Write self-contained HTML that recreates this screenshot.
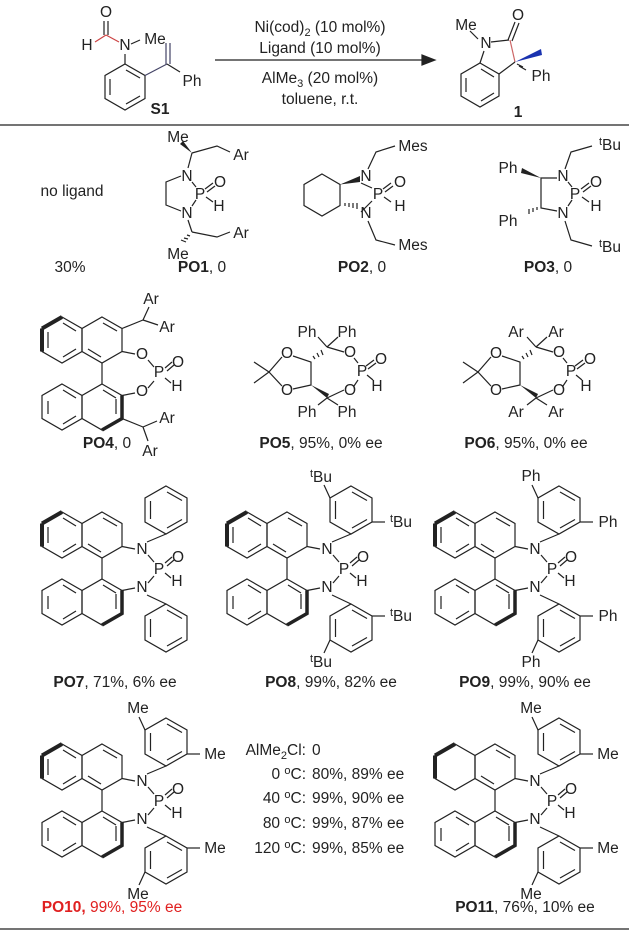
<!DOCTYPE html>
<html><head><meta charset="utf-8"><style>
html,body{margin:0;padding:0;background:#fff}
svg{display:block}
text{font-family:"Liberation Sans",Arial,sans-serif;font-size:15.5px;fill:#222}
.a{text-anchor:middle}
.b{font-weight:bold}
</style></head><body>
<svg width="629" height="932" viewBox="0 0 629 932" xmlns="http://www.w3.org/2000/svg">
<defs>
<g id="core" stroke="#222" stroke-width="1.2" fill="none">
 <polygon points="62,512 82,523.5 82,546.5 62,558 42,546.5 42,523.5"/>
 <polygon points="102,512 122,523.5 122,546.5 102,558 82,546.5 82,523.5"/>
 <polygon points="62,579 82,590.5 82,613.5 62,625 42,613.5 42,590.5"/>
 <polygon points="102,579 122,590.5 122,613.5 102,625 82,613.5 82,590.5"/>
 <line x1="102" y1="558" x2="102" y2="579"/>
 <line x1="122" y1="546.5" x2="135" y2="549"/>
 <line x1="122" y1="590.5" x2="135" y2="588"/>
 <line x1="148" y1="555" x2="154" y2="562"/>
 <line x1="148" y1="583" x2="154" y2="576"/>
 <line x1="165" y1="563" x2="172" y2="557"/>
 <line x1="167" y1="566" x2="174" y2="560"/>
 <line x1="165" y1="573" x2="171" y2="578"/>
 <line x1="103" y1="518" x2="117" y2="526"/>
 <line x1="88" y1="544" x2="101" y2="552"/>
 <line x1="48" y1="596" x2="48" y2="609"/>
 <line x1="63" y1="585" x2="76" y2="593"/>
 <line x1="63" y1="619" x2="76" y2="611"/>
 <line x1="103" y1="585" x2="116" y2="593"/>
 <line x1="116" y1="594" x2="116" y2="609"/>
 <path d="M42,523.5 L42,546.5 M42,523.5 L62,512" stroke-width="4"/>
 <path d="M122,590.5 L122,613.5 L102,625" stroke-width="3.5"/>
</g>
<g id="naphin" stroke="#222" stroke-width="1.2" fill="none">
 <line x1="48" y1="527" x2="48" y2="543"/>
 <line x1="63" y1="552" x2="76" y2="544"/>
 <line x1="63" y1="518" x2="76" y2="526"/>
</g>
<g id="aryls" stroke="#222" stroke-width="1.2" fill="none">
 <polygon points="166,486 187,498 187,522 166,534 145,522 145,498"/>
 <polygon points="166,604 187,616 187,640 166,652 145,640 145,616"/>
 <line x1="147" y1="542" x2="166" y2="534"/>
 <line x1="147" y1="595" x2="166" y2="604"/>
 <line x1="150.5" y1="501" x2="150.5" y2="519"/>
 <line x1="167" y1="492" x2="182" y2="500.5"/>
 <line x1="167" y1="528" x2="182" y2="519.5"/>
 <line x1="150.5" y1="619" x2="150.5" y2="637"/>
 <line x1="167" y1="610" x2="182" y2="618.5"/>
 <line x1="167" y1="646" x2="182" y2="637.5"/>
</g>
<g id="meta" stroke="#222" stroke-width="1.2" fill="none">
 <line x1="145" y1="498" x2="139" y2="485"/>
 <line x1="187" y1="522" x2="200" y2="522"/>
 <line x1="187" y1="616" x2="200" y2="616"/>
 <line x1="145" y1="640" x2="139" y2="653"/>
</g>
</defs>

<!-- top scheme -->
<g stroke="#222" stroke-width="1.2" fill="none">
 <polygon points="125,64 145,75.5 145,98.5 125,110 105,98.5 105,75.5"/>
 <line x1="110" y1="79" x2="110" y2="95"/><line x1="126" y1="104" x2="140" y2="96"/><line x1="126" y1="70" x2="140" y2="78"/>
 <line x1="125" y1="64" x2="125" y2="54"/>
 <line x1="131" y1="44" x2="140" y2="40"/>
 <line x1="119" y1="42" x2="106" y2="35" stroke="#c44"/>
 <line x1="106" y1="35" x2="95" y2="42" stroke="#c44"/>
 <line x1="104" y1="35" x2="104" y2="21"/><line x1="108" y1="35" x2="108" y2="21"/>
 <line x1="145" y1="75.5" x2="167" y2="64" stroke="#446"/>
 <line x1="166" y1="64" x2="166" y2="43" stroke="#446"/><line x1="170" y1="64" x2="170" y2="43" stroke="#446"/>
 <line x1="167" y1="64" x2="180" y2="72"/>
 <line x1="215" y1="60" x2="424" y2="60"/>
 <polygon points="435,60 422,55 422,65" fill="#222"/>
 <polygon points="480,63 499,74 499,96 480,107 461,96 461,74"/>
 <line x1="466" y1="78" x2="466" y2="92"/><line x1="481" y1="101" x2="494" y2="93"/><line x1="481" y1="69" x2="494" y2="77"/>
 <line x1="480" y1="63" x2="484" y2="51"/>
 <line x1="491" y1="42" x2="509" y2="40"/>
 <line x1="508" y1="40" x2="515" y2="22"/><line x1="512" y1="41" x2="519" y2="23"/>
 <line x1="510" y1="40" x2="515" y2="62" stroke="#c66"/>
 <line x1="515" y1="62" x2="499" y2="74"/>
 <line x1="478" y1="39" x2="470" y2="31"/>
 <path d="M517,64 L523,67 M519,66 L526,70" />
</g>
<polygon points="515,62 541,49 542,55" fill="#1a33b0"/>
<text x="106" y="17" class="a">O</text>
<text x="87" y="50" class="a">H</text>
<text x="125" y="50" class="a">N</text>
<text x="155" y="44" class="a">Me</text>
<text x="192" y="86" class="a">Ph</text>
<text x="160" y="114" class="a b">S1</text>
<text x="320" y="32" class="a">Ni(cod)<tspan font-size="11" dy="4">2</tspan><tspan dy="-4"> (10 mol%)</tspan></text>
<text x="320" y="53" class="a">Ligand (10 mol%)</text>
<text x="320" y="83" class="a">AlMe<tspan font-size="11" dy="4">3</tspan><tspan dy="-4"> (20 mol%)</tspan></text>
<text x="320" y="104" class="a">toluene, r.t.</text>
<text x="486" y="48" class="a">N</text>
<text x="466" y="30" class="a">Me</text>
<text x="518" y="20" class="a">O</text>
<text x="541" y="81" class="a">Ph</text>
<text x="518" y="117" class="a b">1</text>
<line x1="0" y1="125" x2="629" y2="125" stroke="#222" stroke-width="1.3"/>

<!-- row1 -->
<text x="72" y="196" class="a">no ligand</text>
<text x="70" y="272" class="a">30%</text>
<g stroke="#222" stroke-width="1.2" fill="none">
 <path d="M181,176 L166,182 L166,205 L181,211"/>
 <line x1="192" y1="182" x2="196" y2="187"/><line x1="196" y1="200" x2="192" y2="206"/>
 <line x1="205" y1="189" x2="213" y2="183"/><line x1="207" y1="192" x2="215" y2="186"/>
 <line x1="206" y1="197" x2="213" y2="202"/>
 <line x1="188" y1="168" x2="192" y2="153"/><path d="M192,153 L217,146 L230,152"/>
 <line x1="188" y1="220" x2="192" y2="232"/><path d="M192,232 L217,237 L230,232"/>
 <path d="M190,236 l-3,-1 M188,239 l-4,-1 M186,242 l-5,-2"/>
</g>
<polygon points="192,153 180,144 183,141" fill="#222"/>
<text x="187" y="181" class="a">N</text><text x="200" y="199" class="a">P</text>
<text x="187" y="218" class="a">N</text><text x="220" y="187" class="a">O</text>
<text x="219" y="211" class="a">H</text>
<text x="178" y="142" class="a">Me</text><text x="241" y="160" class="a">Ar</text>
<text x="241" y="238" class="a">Ar</text><text x="178" y="259" class="a">Me</text>
<text x="202" y="272" class="a"><tspan class="b">PO1</tspan>, 0</text>

<g stroke="#222" stroke-width="1.2" fill="none">
 <polygon points="322,174 340,184.5 340,205.5 322,216 304,205.5 304,184.5"/>
 <line x1="361" y1="183" x2="372" y2="188"/><line x1="372" y1="201" x2="361" y2="212"/>
 <line x1="383" y1="189" x2="391" y2="183"/><line x1="385" y1="192" x2="393" y2="186"/>
 <line x1="384" y1="197" x2="391" y2="202"/>
 <path d="M368,169 L376,152 L395,146"/>
 <path d="M368,221 L376,240 L395,245"/>
 <path d="M345,206 l0,-3 M349,207 l0,-4 M353,208 l0,-5 M357,209 l0,-6"/>
</g>
<polygon points="340,184.5 360,176 360,182" fill="#222"/>
<text x="366" y="181" class="a">N</text><text x="378" y="199" class="a">P</text>
<text x="366" y="218" class="a">N</text><text x="400" y="187" class="a">O</text>
<text x="400" y="211" class="a">H</text>
<text x="413" y="151" class="a">Mes</text><text x="413" y="250" class="a">Mes</text>
<text x="362" y="272" class="a"><tspan class="b">PO2</tspan>, 0</text>

<g stroke="#222" stroke-width="1.2" fill="none">
 <path d="M557,178 L541,178 L541,208 L557,211"/>
 <line x1="568" y1="182" x2="572" y2="187"/><line x1="572" y1="200" x2="568" y2="206"/>
 <line x1="581" y1="189" x2="589" y2="183"/><line x1="583" y1="192" x2="591" y2="186"/>
 <line x1="582" y1="197" x2="589" y2="202"/>
 <path d="M565,169 L571,152 L592,146"/>
 <path d="M565,221 L571,240 L592,246"/>
 <path d="M537,210 l0,-3 M533,212 l0,-4 M529,214 l0,-5"/>
</g>
<polygon points="541,178 522,168 521,173" fill="#222"/>
<text x="563" y="181" class="a">N</text><text x="575" y="199" class="a">P</text>
<text x="563" y="218" class="a">N</text><text x="596" y="187" class="a">O</text>
<text x="596" y="211" class="a">H</text>
<text x="508" y="173" class="a">Ph</text><text x="508" y="226" class="a">Ph</text>
<text x="610" y="150" class="a"><tspan font-size="11" dy="-5">t</tspan><tspan dy="5">Bu</tspan></text>
<text x="610" y="252" class="a"><tspan font-size="11" dy="-5">t</tspan><tspan dy="5">Bu</tspan></text>
<text x="548" y="272" class="a"><tspan class="b">PO3</tspan>, 0</text>

<!-- row2 PO4 -->
<g transform="translate(0,-195)">
 <use href="#core"/><use href="#naphin"/>
 <g stroke="#222" stroke-width="1.2" fill="none">
  <line x1="122" y1="523.5" x2="143" y2="515"/><line x1="143" y1="515" x2="149" y2="502"/><line x1="143" y1="515" x2="158" y2="520"/>
  <line x1="122" y1="613.5" x2="143" y2="622"/><line x1="143" y1="622" x2="157" y2="616"/><line x1="143" y1="622" x2="148" y2="636"/>
 </g>
 <text x="142" y="554" class="a">O</text><text x="159" y="572" class="a">P</text>
 <text x="142" y="591" class="a">O</text><text x="178" y="562" class="a">O</text>
 <text x="177" y="586" class="a">H</text>
 <text x="151" y="499" class="a">Ar</text><text x="167" y="527" class="a">Ar</text>
 <text x="167" y="618" class="a">Ar</text><text x="150" y="651" class="a">Ar</text>
</g>
<text x="107" y="448" class="a"><tspan class="b">PO4</tspan>, 0</text>

<!-- PO5 / PO6 -->
<g id="taddol">
<g stroke="#222" stroke-width="1.2" fill="none">
 <path d="M282,357 L269,372 L282,386"/>
 <path d="M293,356 L311,362 L311,385 L293,389"/>
 <line x1="269" y1="372" x2="254" y2="362"/><line x1="269" y1="372" x2="254" y2="383"/>
 <path d="M327,347 L344,352 M327,398 L344,390"/>
 <path d="M327,347 L318,337 M327,347 L338,337 M327,398 L318,405 M327,398 L338,405"/>
 <line x1="354" y1="358" x2="358" y2="363"/><line x1="354" y1="386" x2="358" y2="380"/>
 <line x1="366" y1="366" x2="374" y2="360"/><line x1="368" y1="369" x2="376" y2="363"/>
 <line x1="367" y1="375" x2="373" y2="380"/>
 <path d="M315,359 l-2,-3 M319,357 l-2,-4 M323,355 l-2,-5"/>
</g>
<polygon points="311,385 327,398 329,394" fill="#222"/>
<text x="287" y="358" class="a">O</text><text x="287" y="395" class="a">O</text>
<text x="350" y="357" class="a">O</text><text x="350" y="395" class="a">O</text>
<text x="362" y="376" class="a">P</text><text x="381" y="364" class="a">O</text>
<text x="377" y="391" class="a">H</text>
</g>
<text x="307" y="337" class="a">Ph</text><text x="347" y="337" class="a">Ph</text>
<text x="307" y="417" class="a">Ph</text><text x="347" y="417" class="a">Ph</text>
<text x="321" y="448" class="a"><tspan class="b">PO5</tspan>, 95%, 0% ee</text>
<use href="#taddol" transform="translate(209,0)"/>
<text x="516" y="337" class="a">Ar</text><text x="556" y="337" class="a">Ar</text>
<text x="516" y="417" class="a">Ar</text><text x="556" y="417" class="a">Ar</text>
<text x="526" y="448" class="a"><tspan class="b">PO6</tspan>, 95%, 0% ee</text>

<!-- row3 -->
<g>
 <use href="#core"/><use href="#naphin"/><use href="#aryls"/>
 <text x="142" y="554" class="a">N</text><text x="159" y="574" class="a">P</text>
 <text x="142" y="592" class="a">N</text><text x="178" y="562" class="a">O</text>
 <text x="177" y="586" class="a">H</text>
</g>
<text x="115" y="687" class="a"><tspan class="b">PO7</tspan>, 71%, 6% ee</text>

<g transform="translate(185,0)">
 <use href="#core"/><use href="#naphin"/><use href="#aryls"/><use href="#meta"/>
 <text x="142" y="554" class="a">N</text><text x="159" y="574" class="a">P</text>
 <text x="142" y="592" class="a">N</text><text x="178" y="562" class="a">O</text>
 <text x="177" y="586" class="a">H</text>
 <text x="136" y="482" class="a"><tspan font-size="11" dy="-5">t</tspan><tspan dy="5">Bu</tspan></text>
 <text x="216" y="527" class="a"><tspan font-size="11" dy="-5">t</tspan><tspan dy="5">Bu</tspan></text>
 <text x="216" y="621" class="a"><tspan font-size="11" dy="-5">t</tspan><tspan dy="5">Bu</tspan></text>
 <text x="136" y="667" class="a"><tspan font-size="11" dy="-5">t</tspan><tspan dy="5">Bu</tspan></text>
</g>
<text x="331" y="687" class="a"><tspan class="b">PO8</tspan>,  99%, 82% ee</text>

<g transform="translate(393,0)">
 <use href="#core"/><use href="#naphin"/><use href="#aryls"/><use href="#meta"/>
 <text x="142" y="554" class="a">N</text><text x="159" y="574" class="a">P</text>
 <text x="142" y="592" class="a">N</text><text x="178" y="562" class="a">O</text>
 <text x="177" y="586" class="a">H</text>
 <text x="138" y="481" class="a">Ph</text><text x="215" y="527" class="a">Ph</text>
 <text x="215" y="621" class="a">Ph</text><text x="138" y="667" class="a">Ph</text>
</g>
<text x="525" y="687" class="a"><tspan class="b">PO9</tspan>, 99%, 90% ee</text>

<!-- row4 -->
<g transform="translate(0,232)">
 <use href="#core"/><use href="#naphin"/><use href="#aryls"/><use href="#meta"/>
 <text x="142" y="554" class="a">N</text><text x="159" y="574" class="a">P</text>
 <text x="142" y="592" class="a">N</text><text x="178" y="562" class="a">O</text>
 <text x="177" y="586" class="a">H</text>
 <text x="138" y="481" class="a">Me</text><text x="215" y="527" class="a">Me</text>
 <text x="215" y="621" class="a">Me</text><text x="138" y="667" class="a">Me</text>
</g>
<text x="112" y="912" class="a b" style="fill:#e02020">PO10,<tspan font-weight="normal" style="fill:#e02020"> 99%, 95% ee</tspan></text>

<text x="306" y="755" text-anchor="end">AlMe<tspan font-size="11" dy="4">2</tspan><tspan dy="-4">Cl:</tspan></text>
<text x="312" y="755">0</text>
<text x="306" y="779" text-anchor="end">0 <tspan font-size="11" dy="-5">o</tspan><tspan dy="5">C:</tspan></text>
<text x="312" y="779">80%, 89% ee</text>
<text x="306" y="803" text-anchor="end">40 <tspan font-size="11" dy="-5">o</tspan><tspan dy="5">C:</tspan></text>
<text x="312" y="803">99%, 90% ee</text>
<text x="306" y="828" text-anchor="end">80 <tspan font-size="11" dy="-5">o</tspan><tspan dy="5">C:</tspan></text>
<text x="312" y="828">99%, 87% ee</text>
<text x="306" y="853" text-anchor="end">120 <tspan font-size="11" dy="-5">o</tspan><tspan dy="5">C:</tspan></text>
<text x="312" y="853">99%, 85% ee</text>

<g transform="translate(393,232)">
 <use href="#core"/><use href="#aryls"/><use href="#meta"/>
 <text x="142" y="554" class="a">N</text><text x="159" y="574" class="a">P</text>
 <text x="142" y="592" class="a">N</text><text x="178" y="562" class="a">O</text>
 <text x="177" y="586" class="a">H</text>
 <text x="138" y="481" class="a">Me</text><text x="215" y="527" class="a">Me</text>
 <text x="215" y="621" class="a">Me</text><text x="138" y="667" class="a">Me</text>
</g>
<text x="525" y="912" class="a"><tspan class="b">PO11</tspan>, 76%, 10% ee</text>

<line x1="0" y1="929" x2="629" y2="929" stroke="#222" stroke-width="1.3"/>
</svg>
</body></html>
